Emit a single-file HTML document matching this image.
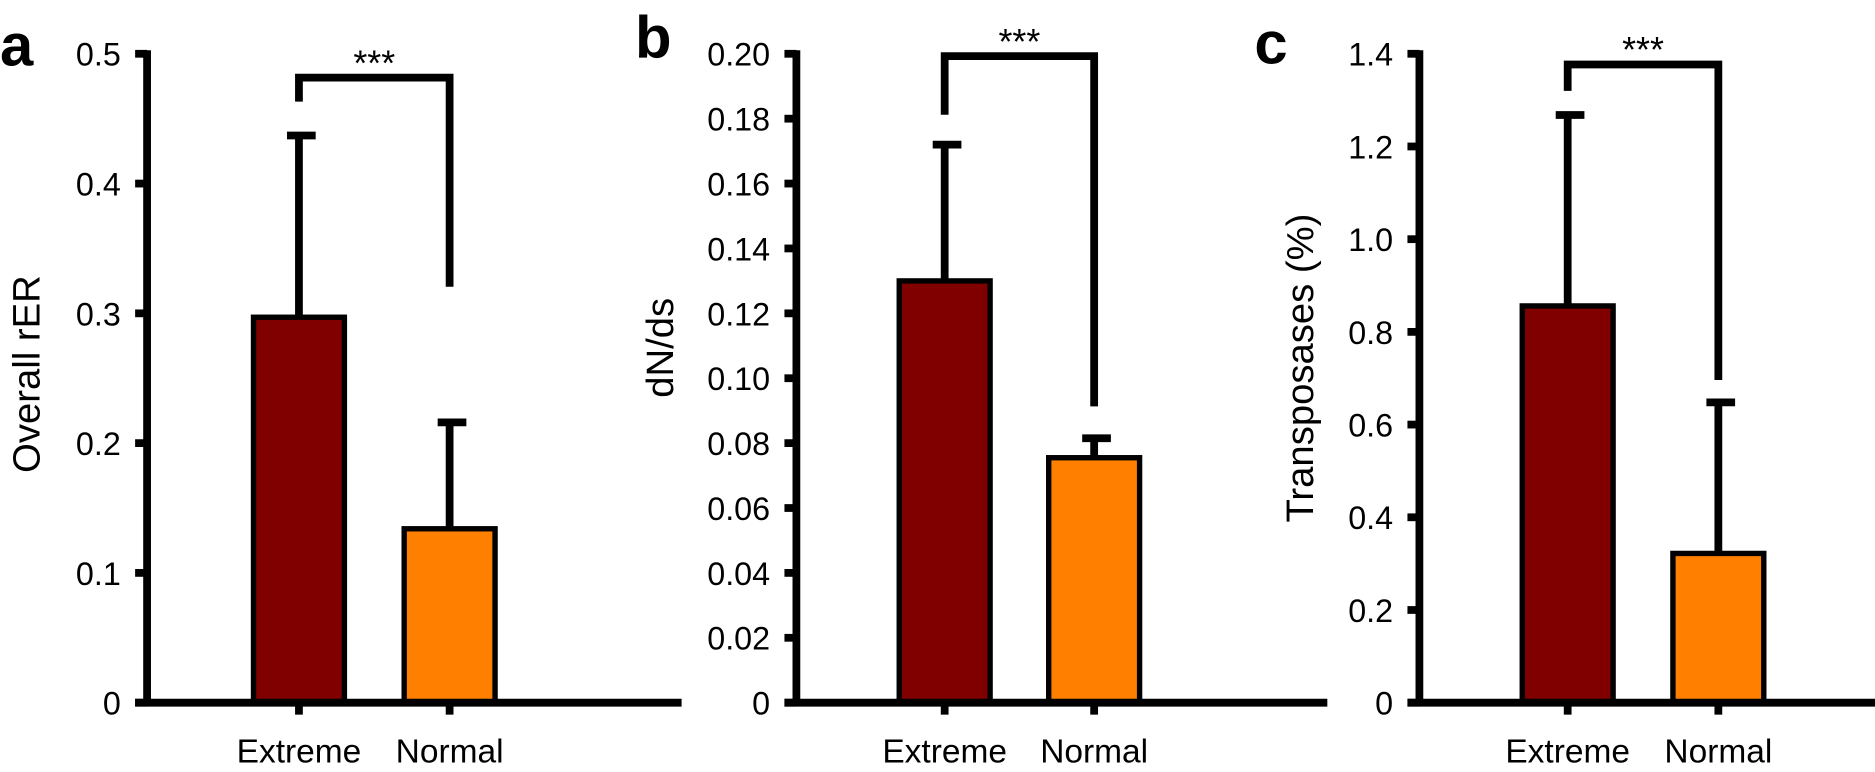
<!DOCTYPE html>
<html><head><meta charset="utf-8"><style>
html,body{margin:0;padding:0;background:#fff}
svg{display:block}
text{font-family:"Liberation Sans",sans-serif;fill:#000}
</style></head><body>
<svg id="chart" width="1875" height="772" viewBox="0 0 1568 646" preserveAspectRatio="none"></svg>
<script>
const categories = ["Extreme", "Normal"];
const panelLetters = ["a", "b", "c"];
const yTitles = ["Overall rER", "dN/ds", "Transposases (%)"];
const meansA = [0.297, 0.134];
const errorsA = [0.140, 0.082];
const meansB = [0.130, 0.0755];
const errorsB = [0.042, 0.006];
const meansC = [0.856, 0.322];
const errorsC = [0.412, 0.326];
const ticksA = ["0", "0.1", "0.2", "0.3", "0.4", "0.5"];
const ticksB = ["0", "0.02", "0.04", "0.06", "0.08", "0.10", "0.12", "0.14", "0.16", "0.18", "0.20"];
const ticksC = ["0", "0.2", "0.4", "0.6", "0.8", "1.0", "1.2", "1.4"];
const yMax = [0.5, 0.2, 1.4];
const sigLabel = "***";

const NS = "http://www.w3.org/2000/svg";
const svg = document.getElementById("chart");
function mk(tag, attrs, parent) {
  const e = document.createElementNS(NS, tag);
  for (const k in attrs) e.setAttribute(k, attrs[k]);
  (parent || svg).appendChild(e);
  return e;
}
const colors = ["#800000", "#ff8000"];
const panels = [
  {x0: 123, bars: [250, 376], means: meansA, errs: errorsA, ticks: ticksA, end: 570, brY: 65, brL: 85, brR: 240, titleX: 33, titleY: 313, letterX: 0, letterY: 55},
  {x0: 666, bars: [790, 915], means: meansB, errs: errorsB, ticks: ticksB, end: 1110, brY: 47, brL: 96, brR: 340, titleX: 563, titleY: 291, letterX: 531, letterY: 48},
  {x0: 1187, bars: [1311, 1437], means: meansC, errs: errorsC, ticks: ticksC, end: 1568, brY: 54, brL: 76, brR: 318, titleX: 1098, titleY: 308, letterX: 1049, letterY: 53}
];
const yTop = 45, yBot = 588, bw = 76, SW = 6.5;
panels.forEach((p, i) => {
  const g = mk("g", {});
  
  
  const ys = v => yBot - (v / yMax[i]) * (yBot - yTop);
  const L = mk("text", {x: p.letterX, y: p.letterY, "font-size": 50, "font-weight": "bold"}, g);
  L.textContent = panelLetters[i];
  
  
  const T = mk("text", {x: p.titleX, y: p.titleY, "font-size": 32, "text-anchor": "middle", transform: `rotate(-90 ${p.titleX} ${p.titleY})`}, g);
  T.textContent = yTitles[i];
  
  
  p.means.forEach((m, j) => {
    const cx = p.bars[j];
    const top = ys(m);
    const eTop = ys(m + p.errs[j]);
    const el = mk("line", {x1: cx, x2: cx, y1: top, y2: eTop, stroke: "#000", "stroke-width": SW}, g);
    
    
    const cap = mk("line", {x1: cx - 10, x2: cx + 14, y1: eTop, y2: eTop, stroke: "#000", "stroke-width": SW}, g);
    
    
    const r = mk("rect", {x: cx - bw / 2, y: top, width: bw, height: yBot - top, fill: colors[j], stroke: "#000", "stroke-width": 4.5}, g);
    
    
    const xl = mk("text", {x: cx, y: 638, "font-size": 28, "text-anchor": "middle"}, g);
    xl.textContent = categories[j];
    
    
    const xt = mk("line", {x1: cx, x2: cx, y1: yBot, y2: yBot + 10, stroke: "#000", "stroke-width": SW}, g);
    
    
  });
  const ya = mk("line", {x1: p.x0, x2: p.x0, y1: yTop - 3, y2: yBot + 3, stroke: "#000", "stroke-width": SW}, g);
  
  
  const xa = mk("line", {x1: p.x0 - 10, x2: p.end, y1: yBot, y2: yBot, stroke: "#000", "stroke-width": SW}, g);
  
  
  p.ticks.forEach((t) => {
    const v = parseFloat(t);
    const y = ys(v);
    const tl = mk("line", {x1: p.x0 - 10, x2: p.x0, y1: y, y2: y, stroke: "#000", "stroke-width": SW}, g);
    
    
    const tx = mk("text", {x: p.x0 - 22, y: y + 10, "font-size": 27, "text-anchor": "end"}, g);
    tx.textContent = t;
    
    
  });
  const br = mk("path", {d: `M${p.bars[0]} ${p.brL} V${p.brY} H${p.bars[1]} V${p.brR}`, fill: "none", stroke: "#000", "stroke-width": SW}, g);
  
  
  const st = mk("text", {x: (p.bars[0] + p.bars[1]) / 2, y: p.brY - 2, "font-size": 30, "text-anchor": "middle"}, g);
  st.textContent = sigLabel;
  
  
});
</script>
</body></html>
